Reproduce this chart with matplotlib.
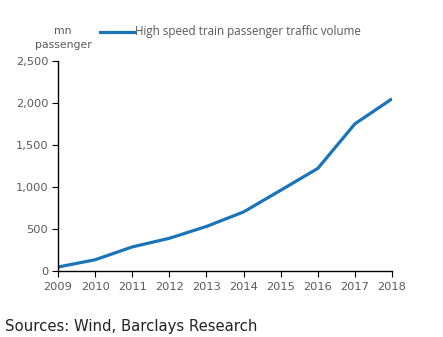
import matplotlib
matplotlib.use("Agg")
import matplotlib.pyplot as plt
from matplotlib.ticker import FuncFormatter

years = [2009, 2010, 2011, 2012, 2013, 2014, 2015, 2016, 2017, 2018]
passengers = [47, 133, 286, 389, 530, 703, 961, 1221, 1752, 2050]
y_ticks = [0, 500, 1000, 1500, 2000, 2500]

line_color = "#1A74B8"
text_color = "#595959"

fig = plt.figure(figsize=(4.43, 3.37), dpi=100)
ax = fig.add_axes([0.131, 0.196, 0.754, 0.623])

ax.plot(years, passengers, color=line_color, linewidth=2.3, solid_capstyle="butt")

ax.set_xlim(years[0], years[-1])
ax.set_ylim(0, 2500)
ax.set_xticks(years)
ax.set_yticks(y_ticks)
ax.yaxis.set_major_formatter(FuncFormatter(lambda v, p: f"{int(v):,}"))

for side in ("top", "right"):
    ax.spines[side].set_visible(False)
for side in ("left", "bottom"):
    ax.spines[side].set_color("#000000")
    ax.spines[side].set_linewidth(1.0)

ax.tick_params(axis="both", direction="out", length=4, width=0.8,
               colors="#000000", labelcolor=text_color, labelsize=8.2)
ax.tick_params(axis="x", pad=4)
ax.tick_params(axis="y", pad=3)

fig.text(0.142, 0.887, "mn\npassenger", ha="center", va="center",
         fontsize=7.8, color=text_color, linespacing=1.5)

fig.lines.append(plt.Line2D([0.226, 0.302], [0.905, 0.905], transform=fig.transFigure,
                            color=line_color, linewidth=2.3))
fig.text(0.304, 0.907, "High speed train passenger traffic volume", ha="left", va="center",
         fontsize=8.4, color=text_color, family="Open Sans")

fig.text(0.012, 0.03, "Sources: Wind, Barclays Research", ha="left", va="center",
         fontsize=10.7, color="#222222")

fig.savefig("out.png", dpi=100)
